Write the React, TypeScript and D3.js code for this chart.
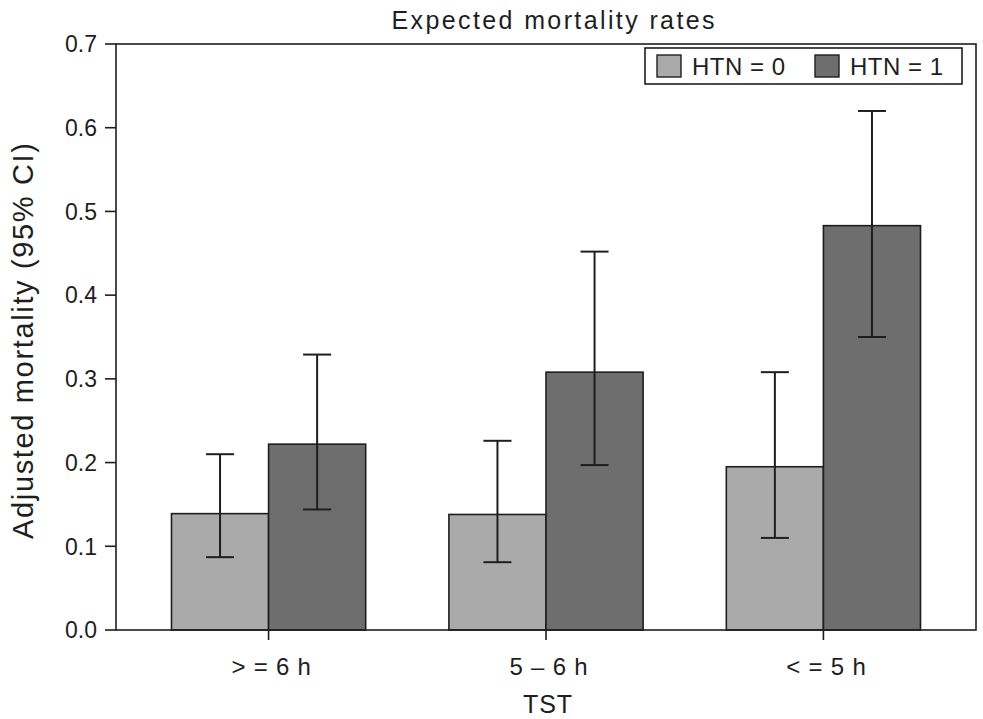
import * as d3 from "d3";

const WIDTH = 983;
const HEIGHT = 719;
const MARGIN = { top: 44, right: 7, bottom: 89, left: 116 };

const categories = ["> = 6 h", "5 – 6 h", "< = 5 h"];
const series = ["HTN = 0", "HTN = 1"];
const colors = ["#aaaaaa", "#6e6e6e"];

// mortality estimate and 95% CI, one array per series (order = categories)
const htn0 = [0.139, 0.138, 0.195];
const htn0Low = [0.087, 0.081, 0.11];
const htn0High = [0.21, 0.226, 0.308];
const htn1 = [0.222, 0.308, 0.483];
const htn1Low = [0.144, 0.197, 0.35];
const htn1High = [0.329, 0.452, 0.62];

const yTicks = [0, 0.1, 0.2, 0.3, 0.4, 0.5, 0.6, 0.7];

const FONT = "'Liberation Sans', Arial, sans-serif";
const INK = "#1e1e1e";

export default function App() {
  const boundsWidth = WIDTH - MARGIN.left - MARGIN.right;
  const boundsHeight = HEIGHT - MARGIN.top - MARGIN.bottom;

  const xScale = d3
    .scaleBand<string>()
    .domain(categories)
    .range([0, boundsWidth])
    .paddingInner(0.3)
    .paddingOuter(0.2);

  const subScale = d3
    .scaleBand<string>()
    .domain(series)
    .range([0, xScale.bandwidth()])
    .padding(0);

  const yScale = d3.scaleLinear().domain([0, 0.7]).range([boundsHeight, 0]);

  const rows = categories.flatMap((c, i) => [
    { cat: c, s: series[0], v: htn0[i], lo: htn0Low[i], hi: htn0High[i], color: colors[0] },
    { cat: c, s: series[1], v: htn1[i], lo: htn1Low[i], hi: htn1High[i], color: colors[1] },
  ]);

  const capHalf = 14;

  return (
    <svg
      width={WIDTH}
      height={HEIGHT}
      style={{ position: "absolute", left: 0, top: 0, background: "#fff" }}
      fontFamily={FONT}
    >
      <text
        x={553}
        y={29}
        textAnchor="middle"
        fontSize={25}
        fill={INK}
        textLength={323}
        lengthAdjust="spacing"
      >
        Expected mortality rates
      </text>

      <g transform={`translate(${MARGIN.left},${MARGIN.top})`}>
        {/* bars */}
        {rows.map((d, i) => {
          const x = (xScale(d.cat) ?? 0) + (subScale(d.s) ?? 0);
          return (
            <rect
              key={"b" + i}
              x={x}
              y={yScale(d.v)}
              width={subScale.bandwidth()}
              height={boundsHeight - yScale(d.v)}
              fill={d.color}
              stroke={INK}
              strokeWidth={1.6}
            />
          );
        })}

        {/* error bars */}
        {rows.map((d, i) => {
          const cx = (xScale(d.cat) ?? 0) + (subScale(d.s) ?? 0) + subScale.bandwidth() / 2;
          return (
            <g key={"e" + i} stroke={INK} strokeWidth={2}>
              <line x1={cx} x2={cx} y1={yScale(d.hi)} y2={yScale(d.lo)} />
              <line x1={cx - capHalf} x2={cx + capHalf} y1={yScale(d.hi)} y2={yScale(d.hi)} />
              <line x1={cx - capHalf} x2={cx + capHalf} y1={yScale(d.lo)} y2={yScale(d.lo)} />
            </g>
          );
        })}

        {/* frame */}
        <rect
          x={0}
          y={0}
          width={boundsWidth}
          height={boundsHeight}
          fill="none"
          stroke={INK}
          strokeWidth={1.6}
        />

        {/* y axis */}
        {yTicks.map((t) => (
          <g key={"y" + t} transform={`translate(0,${yScale(t)})`}>
            <line x1={-11} x2={0} stroke={INK} strokeWidth={1.6} />
            <text x={-19} dy="0.36em" textAnchor="end" fontSize={23} fill={INK}>
              {d3.format(".1f")(t)}
            </text>
          </g>
        ))}

        {/* x axis */}
        {categories.map((c) => {
          const cx = (xScale(c) ?? 0) + xScale.bandwidth() / 2;
          return (
            <g key={"x" + c} transform={`translate(${cx + 3},${boundsHeight})`}>
              <line x1={-3} x2={-3} y1={0} y2={10} stroke={INK} strokeWidth={1.6} />
              <text y={45} textAnchor="middle" fontSize={24} fill={INK} letterSpacing={0.8}>
                {c}
              </text>
            </g>
          );
        })}

        {/* legend */}
        <g transform={`translate(${645 - MARGIN.left},${48 - MARGIN.top})`}>
          <rect x={0} y={0} width={317} height={36} fill="#fff" stroke={INK} strokeWidth={1.6} />
          {series.map((s, i) => {
            const ox = i === 0 ? 12 : 170;
            return (
              <g key={"l" + s} transform={`translate(${ox},0)`}>
                <rect x={0} y={7} width={24} height={22} fill={colors[i]} stroke={INK} strokeWidth={1.4} />
                <text x={35} y={27} fontSize={24} fill={INK} letterSpacing={0.5}>
                  {s}
                </text>
              </g>
            );
          })}
        </g>
      </g>

      <text
        x={MARGIN.left + boundsWidth / 2 + 2}
        y={713}
        textAnchor="middle"
        fontSize={25}
        fill={INK}
        letterSpacing={1}
      >
        TST
      </text>

      <text
        transform={`translate(33,${MARGIN.top + boundsHeight / 2 + 4}) rotate(-90)`}
        textAnchor="middle"
        fontSize={29}
        fill={INK}
        textLength={396}
        lengthAdjust="spacing"
      >
        Adjusted mortality (95% CI)
      </text>
    </svg>
  );
}
